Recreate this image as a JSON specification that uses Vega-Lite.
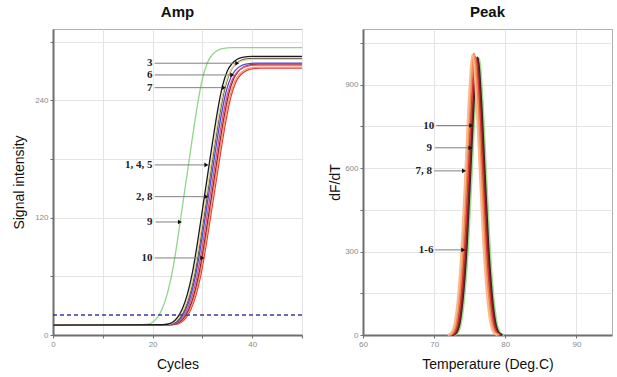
{
  "$schema": "https://vega.github.io/schema/vega-lite/v6.json",
  "padding": {"left": 12, "top": 4, "right": 4, "bottom": 2},
  "background": "white",
  "bounds": "flush",
  "spacing": 61,
  "resolve": {"scale": {"color": "independent"}},
  "config": {
    "view": {"stroke": "#b0b0b0", "strokeWidth": 1},
    "axis": {
      "labelFont": "Liberation Sans", "labelFontSize": 8, "labelColor": "#8a8a8a", "labelFlush": false,
      "titleFont": "Liberation Sans", "titleFontSize": 14, "titleFontWeight": "normal", "titleColor": "#111111",
      "gridColor": "#e4e4e4", "gridWidth": 1,
      "domainColor": "#6e6e6e", "domainWidth": 2,
      "tickColor": "#6e6e6e", "tickSize": 3, "tickWidth": 1, "labelPadding": 2
    },
    "title": {"font": "Liberation Sans", "fontSize": 15, "fontWeight": "bold", "color": "#111111", "offset": 9}
  },
  "datasets": {
    "amp": [
      {"curve": "c1", "cycle": 0, "signal": 10}, {"curve": "c1", "cycle": 18, "signal": 10.5}, {"curve": "c1", "cycle": 19, "signal": 11}, {"curve": "c1", "cycle": 20, "signal": 13.1}, {"curve": "c1", "cycle": 21, "signal": 18.3}, {"curve": "c1", "cycle": 22, "signal": 27.6}, {"curve": "c1", "cycle": 23, "signal": 43.1}, {"curve": "c1", "cycle": 24, "signal": 65.8}, {"curve": "c1", "cycle": 25, "signal": 96.8}, {"curve": "c1", "cycle": 26, "signal": 131.9}, {"curve": "c1", "cycle": 27, "signal": 167}, {"curve": "c1", "cycle": 28, "signal": 202.1}, {"curve": "c1", "cycle": 29, "signal": 235.2}, {"curve": "c1", "cycle": 30, "signal": 262.1}, {"curve": "c1", "cycle": 31, "signal": 278.6}, {"curve": "c1", "cycle": 32, "signal": 286.8}, {"curve": "c1", "cycle": 33, "signal": 291}, {"curve": "c1", "cycle": 34, "signal": 293}, {"curve": "c1", "cycle": 36, "signal": 294}, {"curve": "c1", "cycle": 50, "signal": 294},
      {"curve": "c2", "cycle": 0, "signal": 10}, {"curve": "c2", "cycle": 23.7, "signal": 10.5}, {"curve": "c2", "cycle": 24.7, "signal": 11}, {"curve": "c2", "cycle": 25.7, "signal": 12.9}, {"curve": "c2", "cycle": 26.7, "signal": 17.6}, {"curve": "c2", "cycle": 27.7, "signal": 26.3}, {"curve": "c2", "cycle": 28.7, "signal": 40.6}, {"curve": "c2", "cycle": 29.7, "signal": 61.6}, {"curve": "c2", "cycle": 30.7, "signal": 90.3}, {"curve": "c2", "cycle": 31.7, "signal": 122.8}, {"curve": "c2", "cycle": 32.7, "signal": 155.3}, {"curve": "c2", "cycle": 33.7, "signal": 187.9}, {"curve": "c2", "cycle": 34.7, "signal": 218.4}, {"curve": "c2", "cycle": 35.7, "signal": 243.3}, {"curve": "c2", "cycle": 36.7, "signal": 258.6}, {"curve": "c2", "cycle": 37.7, "signal": 266.2}, {"curve": "c2", "cycle": 38.7, "signal": 270}, {"curve": "c2", "cycle": 39.7, "signal": 272}, {"curve": "c2", "cycle": 41.7, "signal": 273}, {"curve": "c2", "cycle": 50, "signal": 273},
      {"curve": "c3", "cycle": 0, "signal": 10}, {"curve": "c3", "cycle": 23.5, "signal": 10.5}, {"curve": "c3", "cycle": 24.5, "signal": 11}, {"curve": "c3", "cycle": 25.5, "signal": 12.9}, {"curve": "c3", "cycle": 26.5, "signal": 17.7}, {"curve": "c3", "cycle": 27.5, "signal": 26.3}, {"curve": "c3", "cycle": 28.5, "signal": 40.7}, {"curve": "c3", "cycle": 29.5, "signal": 61.8}, {"curve": "c3", "cycle": 30.5, "signal": 90.6}, {"curve": "c3", "cycle": 31.5, "signal": 123.3}, {"curve": "c3", "cycle": 32.5, "signal": 155.9}, {"curve": "c3", "cycle": 33.5, "signal": 188.6}, {"curve": "c3", "cycle": 34.5, "signal": 219.3}, {"curve": "c3", "cycle": 35.5, "signal": 244.2}, {"curve": "c3", "cycle": 36.5, "signal": 259.6}, {"curve": "c3", "cycle": 37.5, "signal": 267.3}, {"curve": "c3", "cycle": 38.5, "signal": 271.1}, {"curve": "c3", "cycle": 39.5, "signal": 273}, {"curve": "c3", "cycle": 41.5, "signal": 274}, {"curve": "c3", "cycle": 50, "signal": 274},
      {"curve": "c4", "cycle": 0, "signal": 10}, {"curve": "c4", "cycle": 23.3, "signal": 10.5}, {"curve": "c4", "cycle": 24.3, "signal": 11}, {"curve": "c4", "cycle": 25.3, "signal": 12.9}, {"curve": "c4", "cycle": 26.3, "signal": 17.8}, {"curve": "c4", "cycle": 27.3, "signal": 26.5}, {"curve": "c4", "cycle": 28.3, "signal": 41.1}, {"curve": "c4", "cycle": 29.3, "signal": 62.4}, {"curve": "c4", "cycle": 30.3, "signal": 91.6}, {"curve": "c4", "cycle": 31.3, "signal": 124.6}, {"curve": "c4", "cycle": 32.3, "signal": 157.6}, {"curve": "c4", "cycle": 33.3, "signal": 190.6}, {"curve": "c4", "cycle": 34.3, "signal": 221.7}, {"curve": "c4", "cycle": 35.3, "signal": 246.9}, {"curve": "c4", "cycle": 36.3, "signal": 262.5}, {"curve": "c4", "cycle": 37.3, "signal": 270.2}, {"curve": "c4", "cycle": 38.3, "signal": 274.1}, {"curve": "c4", "cycle": 39.3, "signal": 276.1}, {"curve": "c4", "cycle": 41.3, "signal": 277}, {"curve": "c4", "cycle": 50, "signal": 277},
      {"curve": "c5", "cycle": 0, "signal": 10}, {"curve": "c5", "cycle": 23, "signal": 10.5}, {"curve": "c5", "cycle": 24, "signal": 11}, {"curve": "c5", "cycle": 25, "signal": 12.9}, {"curve": "c5", "cycle": 26, "signal": 17.7}, {"curve": "c5", "cycle": 27, "signal": 26.4}, {"curve": "c5", "cycle": 28, "signal": 40.9}, {"curve": "c5", "cycle": 29, "signal": 62.2}, {"curve": "c5", "cycle": 30, "signal": 91.2}, {"curve": "c5", "cycle": 31, "signal": 124.1}, {"curve": "c5", "cycle": 32, "signal": 157}, {"curve": "c5", "cycle": 33, "signal": 189.9}, {"curve": "c5", "cycle": 34, "signal": 220.8}, {"curve": "c5", "cycle": 35, "signal": 246}, {"curve": "c5", "cycle": 36, "signal": 261.4}, {"curve": "c5", "cycle": 37, "signal": 269.2}, {"curve": "c5", "cycle": 38, "signal": 273}, {"curve": "c5", "cycle": 39, "signal": 275}, {"curve": "c5", "cycle": 41, "signal": 276}, {"curve": "c5", "cycle": 50, "signal": 276},
      {"curve": "c6", "cycle": 0, "signal": 10}, {"curve": "c6", "cycle": 22.7, "signal": 10.5}, {"curve": "c6", "cycle": 23.7, "signal": 11}, {"curve": "c6", "cycle": 24.7, "signal": 12.9}, {"curve": "c6", "cycle": 25.7, "signal": 17.8}, {"curve": "c6", "cycle": 26.7, "signal": 26.6}, {"curve": "c6", "cycle": 27.7, "signal": 41.2}, {"curve": "c6", "cycle": 28.7, "signal": 62.6}, {"curve": "c6", "cycle": 29.7, "signal": 91.9}, {"curve": "c6", "cycle": 30.7, "signal": 125}, {"curve": "c6", "cycle": 31.7, "signal": 158.1}, {"curve": "c6", "cycle": 32.7, "signal": 191.3}, {"curve": "c6", "cycle": 33.7, "signal": 222.4}, {"curve": "c6", "cycle": 34.7, "signal": 247.8}, {"curve": "c6", "cycle": 35.7, "signal": 263.4}, {"curve": "c6", "cycle": 36.7, "signal": 271.2}, {"curve": "c6", "cycle": 37.7, "signal": 275.1}, {"curve": "c6", "cycle": 38.7, "signal": 277}, {"curve": "c6", "cycle": 40.7, "signal": 278}, {"curve": "c6", "cycle": 50, "signal": 278},
      {"curve": "c7", "cycle": 0, "signal": 10}, {"curve": "c7", "cycle": 22.5, "signal": 10.5}, {"curve": "c7", "cycle": 23.5, "signal": 11}, {"curve": "c7", "cycle": 24.5, "signal": 13}, {"curve": "c7", "cycle": 25.5, "signal": 17.9}, {"curve": "c7", "cycle": 26.5, "signal": 26.9}, {"curve": "c7", "cycle": 27.5, "signal": 41.8}, {"curve": "c7", "cycle": 28.5, "signal": 63.6}, {"curve": "c7", "cycle": 29.5, "signal": 93.4}, {"curve": "c7", "cycle": 30.5, "signal": 127.2}, {"curve": "c7", "cycle": 31.5, "signal": 160.9}, {"curve": "c7", "cycle": 32.5, "signal": 194.7}, {"curve": "c7", "cycle": 33.5, "signal": 226.5}, {"curve": "c7", "cycle": 34.5, "signal": 252.3}, {"curve": "c7", "cycle": 35.5, "signal": 268.2}, {"curve": "c7", "cycle": 36.5, "signal": 276.1}, {"curve": "c7", "cycle": 37.5, "signal": 280.1}, {"curve": "c7", "cycle": 38.5, "signal": 282.1}, {"curve": "c7", "cycle": 40.5, "signal": 283}, {"curve": "c7", "cycle": 50, "signal": 283},
      {"curve": "c8", "cycle": 0, "signal": 10}, {"curve": "c8", "cycle": 22.3, "signal": 10.5}, {"curve": "c8", "cycle": 23.3, "signal": 11}, {"curve": "c8", "cycle": 24.3, "signal": 13}, {"curve": "c8", "cycle": 25.3, "signal": 17.9}, {"curve": "c8", "cycle": 26.3, "signal": 26.8}, {"curve": "c8", "cycle": 27.3, "signal": 41.6}, {"curve": "c8", "cycle": 28.3, "signal": 63.4}, {"curve": "c8", "cycle": 29.3, "signal": 93.1}, {"curve": "c8", "cycle": 30.3, "signal": 126.7}, {"curve": "c8", "cycle": 31.3, "signal": 160.3}, {"curve": "c8", "cycle": 32.3, "signal": 194}, {"curve": "c8", "cycle": 33.3, "signal": 225.6}, {"curve": "c8", "cycle": 34.3, "signal": 251.3}, {"curve": "c8", "cycle": 35.3, "signal": 267.1}, {"curve": "c8", "cycle": 36.3, "signal": 275.1}, {"curve": "c8", "cycle": 37.3, "signal": 279}, {"curve": "c8", "cycle": 38.3, "signal": 281}, {"curve": "c8", "cycle": 40.3, "signal": 282}, {"curve": "c8", "cycle": 50, "signal": 282},
      {"curve": "c9", "cycle": 0, "signal": 10}, {"curve": "c9", "cycle": 22, "signal": 10.5}, {"curve": "c9", "cycle": 23, "signal": 11}, {"curve": "c9", "cycle": 24, "signal": 13}, {"curve": "c9", "cycle": 25, "signal": 18}, {"curve": "c9", "cycle": 26, "signal": 27}, {"curve": "c9", "cycle": 27, "signal": 42}, {"curve": "c9", "cycle": 28, "signal": 64}, {"curve": "c9", "cycle": 29, "signal": 94}, {"curve": "c9", "cycle": 30, "signal": 128}, {"curve": "c9", "cycle": 31, "signal": 162}, {"curve": "c9", "cycle": 32, "signal": 196}, {"curve": "c9", "cycle": 33, "signal": 228}, {"curve": "c9", "cycle": 34, "signal": 254}, {"curve": "c9", "cycle": 35, "signal": 270}, {"curve": "c9", "cycle": 36, "signal": 278}, {"curve": "c9", "cycle": 37, "signal": 282}, {"curve": "c9", "cycle": 38, "signal": 284}, {"curve": "c9", "cycle": 40, "signal": 285}, {"curve": "c9", "cycle": 50, "signal": 285}
    ],
    "ampnotes": [
      {"label": "3", "textCycle": 20.0, "cycle": 20.4, "cycle2": 37.0, "signal": 278},
      {"label": "6", "textCycle": 20.0, "cycle": 20.4, "cycle2": 36.0, "signal": 266},
      {"label": "7", "textCycle": 20.0, "cycle": 20.4, "cycle2": 34.3, "signal": 253},
      {"label": "1, 4, 5", "textCycle": 20.0, "cycle": 20.4, "cycle2": 30.8, "signal": 174},
      {"label": "2, 8", "textCycle": 20.0, "cycle": 20.4, "cycle2": 30.8, "signal": 141.5},
      {"label": "9", "textCycle": 20.0, "cycle": 20.6, "cycle2": 25.5, "signal": 115.6},
      {"label": "10", "textCycle": 20.0, "cycle": 20.4, "cycle2": 30.0, "signal": 78.8}
    ],
    "peak": [
      {"series": "p1", "temp": 72.8, "dfdt": 0}, {"series": "p1", "temp": 73.3, "dfdt": 8}, {"series": "p1", "temp": 73.8, "dfdt": 45}, {"series": "p1", "temp": 74.3, "dfdt": 150}, {"series": "p1", "temp": 74.8, "dfdt": 328}, {"series": "p1", "temp": 75.3, "dfdt": 587}, {"series": "p1", "temp": 75.8, "dfdt": 846}, {"series": "p1", "temp": 76.3, "dfdt": 995}, {"series": "p1", "temp": 76.8, "dfdt": 846}, {"series": "p1", "temp": 77.3, "dfdt": 587}, {"series": "p1", "temp": 77.8, "dfdt": 328}, {"series": "p1", "temp": 78.3, "dfdt": 150}, {"series": "p1", "temp": 78.8, "dfdt": 45}, {"series": "p1", "temp": 79.3, "dfdt": 8}, {"series": "p1", "temp": 79.8, "dfdt": 0},
      {"series": "p2", "temp": 72.6, "dfdt": 0}, {"series": "p2", "temp": 73.1, "dfdt": 8}, {"series": "p2", "temp": 73.6, "dfdt": 45}, {"series": "p2", "temp": 74.1, "dfdt": 150}, {"series": "p2", "temp": 74.6, "dfdt": 329}, {"series": "p2", "temp": 75.1, "dfdt": 589}, {"series": "p2", "temp": 75.6, "dfdt": 848}, {"series": "p2", "temp": 76.1, "dfdt": 998}, {"series": "p2", "temp": 76.6, "dfdt": 848}, {"series": "p2", "temp": 77.1, "dfdt": 589}, {"series": "p2", "temp": 77.6, "dfdt": 329}, {"series": "p2", "temp": 78.1, "dfdt": 150}, {"series": "p2", "temp": 78.6, "dfdt": 45}, {"series": "p2", "temp": 79.1, "dfdt": 8}, {"series": "p2", "temp": 79.6, "dfdt": 0},
      {"series": "p3", "temp": 72.5, "dfdt": 0}, {"series": "p3", "temp": 73.0, "dfdt": 8}, {"series": "p3", "temp": 73.5, "dfdt": 45}, {"series": "p3", "temp": 74.0, "dfdt": 149}, {"series": "p3", "temp": 74.5, "dfdt": 328}, {"series": "p3", "temp": 75.0, "dfdt": 587}, {"series": "p3", "temp": 75.5, "dfdt": 846}, {"series": "p3", "temp": 76.0, "dfdt": 995}, {"series": "p3", "temp": 76.5, "dfdt": 846}, {"series": "p3", "temp": 77.0, "dfdt": 587}, {"series": "p3", "temp": 77.5, "dfdt": 328}, {"series": "p3", "temp": 78.0, "dfdt": 149}, {"series": "p3", "temp": 78.5, "dfdt": 45}, {"series": "p3", "temp": 79.0, "dfdt": 8}, {"series": "p3", "temp": 79.5, "dfdt": 0},
      {"series": "p4", "temp": 72.3, "dfdt": 0}, {"series": "p4", "temp": 72.8, "dfdt": 8}, {"series": "p4", "temp": 73.3, "dfdt": 45}, {"series": "p4", "temp": 73.8, "dfdt": 150}, {"series": "p4", "temp": 74.3, "dfdt": 330}, {"series": "p4", "temp": 74.8, "dfdt": 590}, {"series": "p4", "temp": 75.3, "dfdt": 850}, {"series": "p4", "temp": 75.8, "dfdt": 1000}, {"series": "p4", "temp": 76.3, "dfdt": 850}, {"series": "p4", "temp": 76.8, "dfdt": 590}, {"series": "p4", "temp": 77.3, "dfdt": 330}, {"series": "p4", "temp": 77.8, "dfdt": 150}, {"series": "p4", "temp": 78.3, "dfdt": 45}, {"series": "p4", "temp": 78.8, "dfdt": 8}, {"series": "p4", "temp": 79.3, "dfdt": 0},
      {"series": "p5", "temp": 72.1, "dfdt": 0}, {"series": "p5", "temp": 72.6, "dfdt": 8}, {"series": "p5", "temp": 73.1, "dfdt": 46}, {"series": "p5", "temp": 73.6, "dfdt": 152}, {"series": "p5", "temp": 74.1, "dfdt": 334}, {"series": "p5", "temp": 74.6, "dfdt": 597}, {"series": "p5", "temp": 75.1, "dfdt": 860}, {"series": "p5", "temp": 75.6, "dfdt": 1012}, {"series": "p5", "temp": 76.1, "dfdt": 860}, {"series": "p5", "temp": 76.6, "dfdt": 597}, {"series": "p5", "temp": 77.1, "dfdt": 334}, {"series": "p5", "temp": 77.6, "dfdt": 152}, {"series": "p5", "temp": 78.1, "dfdt": 46}, {"series": "p5", "temp": 78.6, "dfdt": 8}, {"series": "p5", "temp": 79.1, "dfdt": 0},
      {"series": "p6", "temp": 71.9, "dfdt": 0}, {"series": "p6", "temp": 72.4, "dfdt": 8}, {"series": "p6", "temp": 72.9, "dfdt": 45}, {"series": "p6", "temp": 73.4, "dfdt": 151}, {"series": "p6", "temp": 73.9, "dfdt": 333}, {"series": "p6", "temp": 74.4, "dfdt": 595}, {"series": "p6", "temp": 74.9, "dfdt": 857}, {"series": "p6", "temp": 75.4, "dfdt": 1008}, {"series": "p6", "temp": 75.9, "dfdt": 857}, {"series": "p6", "temp": 76.4, "dfdt": 595}, {"series": "p6", "temp": 76.9, "dfdt": 333}, {"series": "p6", "temp": 77.4, "dfdt": 151}, {"series": "p6", "temp": 77.9, "dfdt": 45}, {"series": "p6", "temp": 78.4, "dfdt": 8}, {"series": "p6", "temp": 78.9, "dfdt": 0}
    ],
    "peaknotes": [
      {"label": "10", "textTemp": 70.0, "temp": 70.3, "temp2": 75.2, "dfdt": 753},
      {"label": "9", "textTemp": 69.7, "temp": 70.1, "temp2": 75.1, "dfdt": 673},
      {"label": "7, 8", "textTemp": 69.7, "temp": 70.0, "temp2": 74.2, "dfdt": 590},
      {"label": "1-6", "textTemp": 69.9, "temp": 70.1, "temp2": 74.1, "dfdt": 306}
    ]
  },
  "hconcat": [
    {
      "width": 249,
      "height": 306,
      "title": "Amp",
      "layer": [
        {
          "data": {"name": "amp"},
          "mark": {"type": "line", "interpolate": "monotone", "strokeWidth": 1.3},
          "encoding": {
            "x": {"field": "cycle", "type": "quantitative", "title": "Cycles",
              "scale": {"domain": [0, 50], "nice": false, "zero": false},
              "axis": {"values": [0, 10, 20, 30, 40, 50], "labelExpr": "datum.value % 20 === 0 ? datum.label : ''", "titlePadding": 9}},
            "y": {"field": "signal", "type": "quantitative", "title": "Signal intensity",
              "scale": {"domain": [0, 313], "nice": false},
              "axis": {"values": [0, 60, 120, 180, 240, 300], "labelExpr": "datum.value % 120 === 0 ? datum.label : ''", "titlePadding": 8}},
            "color": {"field": "curve", "type": "nominal", "legend": null,
              "scale": {"domain": ["c1", "c2", "c3", "c4", "c5", "c6", "c7", "c8", "c9"],
                "range": ["#8fd68a", "#e8383a", "#f39a6b", "#8e2a2a", "#e0507e", "#4b4bd6", "#555555", "#ead58e", "#1a1a1a"]}}
          }
        },
        {
          "data": {"values": [{"signal": 20.4}]},
          "mark": {"type": "rule", "color": "#3a3aa6", "strokeWidth": 1.5, "strokeDash": [4, 3]},
          "encoding": {"y": {"field": "signal", "type": "quantitative", "title": "Signal intensity"}}
        },
        {
          "data": {"name": "ampnotes"},
          "mark": {"type": "rule", "color": "#808080", "strokeWidth": 1},
          "encoding": {
            "x": {"field": "cycle", "type": "quantitative", "title": "Cycles"},
            "x2": {"field": "cycle2"},
            "y": {"field": "signal", "type": "quantitative", "title": "Signal intensity"}
          }
        },
        {
          "data": {"name": "ampnotes"},
          "mark": {"type": "point", "shape": "triangle-right", "filled": true, "color": "#111111", "size": 22, "opacity": 1},
          "encoding": {
            "x": {"field": "cycle2", "type": "quantitative", "title": "Cycles"},
            "y": {"field": "signal", "type": "quantitative", "title": "Signal intensity"}
          }
        },
        {
          "data": {"name": "ampnotes"},
          "mark": {"type": "text", "align": "right", "baseline": "middle", "font": "Liberation Serif", "fontWeight": "bold", "fontSize": 11, "color": "#222222"},
          "encoding": {
            "x": {"field": "textCycle", "type": "quantitative", "title": "Cycles"},
            "y": {"field": "signal", "type": "quantitative", "title": "Signal intensity"},
            "text": {"field": "label"}
          }
        }
      ]
    },
    {
      "width": 249,
      "height": 306,
      "title": "Peak",
      "layer": [
        {
          "data": {"name": "peak"},
          "mark": {"type": "line", "interpolate": "monotone", "strokeWidth": 2},
          "encoding": {
            "x": {"field": "temp", "type": "quantitative", "title": "Temperature (Deg.C)",
              "scale": {"domain": [60, 95], "nice": false, "zero": false},
              "axis": {"values": [60, 65, 70, 75, 80, 85, 90, 95], "labelExpr": "datum.value % 10 === 0 ? datum.label : ''", "titlePadding": 9}},
            "y": {"field": "dfdt", "type": "quantitative", "title": "dF/dT",
              "scale": {"domain": [0, 1100], "nice": false},
              "axis": {"values": [0, 150, 300, 450, 600, 750, 900, 1050], "labelExpr": "datum.value % 300 === 0 ? datum.label : ''", "titlePadding": 2}},
            "color": {"field": "series", "type": "nominal", "legend": null,
              "scale": {"domain": ["p1", "p2", "p3", "p4", "p5", "p6"],
                "range": ["#9ddc96", "#2a2222", "#7a2020", "#d8383a", "#ef8a4a", "#f7b98f"]}}
          }
        },
        {
          "data": {"name": "peaknotes"},
          "mark": {"type": "rule", "color": "#808080", "strokeWidth": 1},
          "encoding": {
            "x": {"field": "temp", "type": "quantitative", "title": "Temperature (Deg.C)"},
            "x2": {"field": "temp2"},
            "y": {"field": "dfdt", "type": "quantitative", "title": "dF/dT"}
          }
        },
        {
          "data": {"name": "peaknotes"},
          "mark": {"type": "point", "shape": "triangle-right", "filled": true, "color": "#111111", "size": 22, "opacity": 1},
          "encoding": {
            "x": {"field": "temp2", "type": "quantitative", "title": "Temperature (Deg.C)"},
            "y": {"field": "dfdt", "type": "quantitative", "title": "dF/dT"}
          }
        },
        {
          "data": {"name": "peaknotes"},
          "mark": {"type": "text", "align": "right", "baseline": "middle", "font": "Liberation Serif", "fontWeight": "bold", "fontSize": 11, "color": "#222222"},
          "encoding": {
            "x": {"field": "textTemp", "type": "quantitative", "title": "Temperature (Deg.C)"},
            "y": {"field": "dfdt", "type": "quantitative", "title": "dF/dT"},
            "text": {"field": "label"}
          }
        }
      ]
    }
  ]
}
